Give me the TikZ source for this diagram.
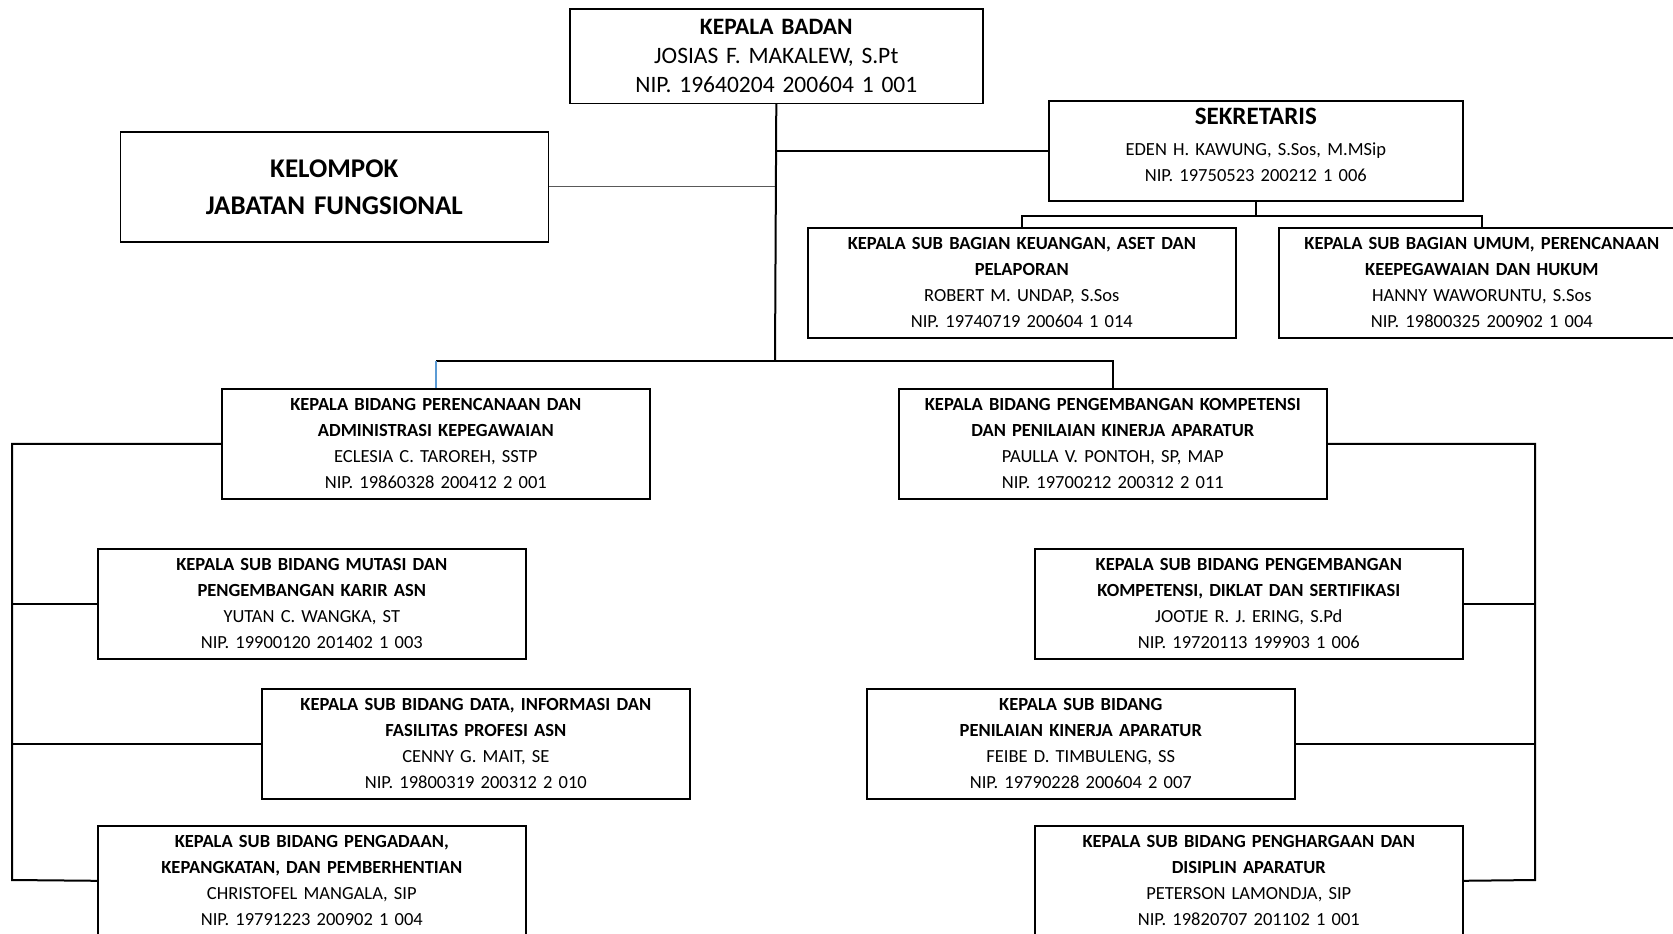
\documentclass[tikz,border=0pt]{standalone}
\usepackage{fontspec}
\setmainfont{Carlito}
\usetikzlibrary{positioning}
\definecolor{biru}{RGB}{91,155,213}
\frenchspacing

\begin{document}
\begin{tikzpicture}[x=1pt,y=-1pt]

      \tikzstyle{jabatan}=[rectangle,draw,line width=1.6pt,
        minimum width=428pt,minimum height=110pt,inner sep=4pt,
        text width=420pt,align=center,anchor=north west,
        font=\fontsize{18.5}{26}\selectfont]
      \tikzstyle{garis}=[line width=2pt]

      \useasboundingbox (0,0) rectangle (1673,934);
      \clip (0,0) rectangle (1673,934);

      % pimpinan
      \node(KepalaBadan)[jabatan,minimum width=413pt,text width=405pt,
        minimum height=94pt,font=\fontsize{23.5}{29}\selectfont]
        at (569,8.5) {\textbf{KEPALA BADAN}\\JOSIAS F. MAKALEW, S.Pt\\
        NIP. 19640204 200604 1 001};
      \node(Kelompok)[jabatan,font=\fontsize{27}{37}\selectfont\bfseries]
        at (119.5,131) {KELOMPOK\\JABATAN FUNGSIONAL};
      \node(Sekretaris)[jabatan,minimum width=414pt,text width=406pt,
        minimum height=100pt] at (1048,100)
        {{\fontsize{25}{26}\selectfont\textbf{SEKRETARIS}}\\[5pt]
        EDEN H. KAWUNG, S.Sos, M.MSip\\NIP. 19750523 200212 1 006\\[-14pt]
        \mbox{}};

      % sub bagian
      \node(SubBagian1)[jabatan] at (807,227)
        {\textbf{KEPALA SUB BAGIAN KEUANGAN, ASET DAN}\\
        \textbf{PELAPORAN}\\ROBERT M. UNDAP, S.Sos\\
        NIP. 19740719 200604 1 014};
      \node(SubBagian2)[jabatan,minimum width=406pt,text width=398pt]
        at (1278,227)
        {\textbf{KEPALA SUB BAGIAN UMUM, PERENCANAAN}\\
        \textbf{KEEPEGAWAIAN DAN HUKUM}\\HANNY WAWORUNTU, S.Sos\\
        NIP. 19800325 200902 1 004};

      % bidang
      \node(Bidang1)[jabatan] at (221,388)
        {\textbf{KEPALA BIDANG PERENCANAAN DAN}\\
        \textbf{ADMINISTRASI KEPEGAWAIAN}\\ECLESIA C. TAROREH, SSTP\\
        NIP. 19860328 200412 2 001};
      \node(Bidang2)[jabatan] at (898,388)
        {\textbf{KEPALA BIDANG PENGEMBANGAN KOMPETENSI}\\
        \textbf{DAN PENILAIAN KINERJA APARATUR}\\PAULLA V. PONTOH, SP, MAP\\
        NIP. 19700212 200312 2 011};

      % sub bidang
      \node(SubBidang1)[jabatan] at (97,548)
        {\textbf{KEPALA SUB BIDANG MUTASI DAN}\\
        \textbf{PENGEMBANGAN KARIR ASN}\\YUTAN C. WANGKA, ST\\
        NIP. 19900120 201402 1 003};
      \node(SubBidang2)[jabatan] at (261,688)
        {\textbf{KEPALA SUB BIDANG DATA, INFORMASI DAN}\\
        \textbf{FASILITAS PROFESI ASN}\\CENNY G. MAIT, SE\\
        NIP. 19800319 200312 2 010};
      \node(SubBidang3)[jabatan] at (97,825)
        {\textbf{KEPALA SUB BIDANG PENGADAAN,}\\
        \textbf{KEPANGKATAN, DAN PEMBERHENTIAN}\\CHRISTOFEL MANGALA, SIP\\
        NIP. 19791223 200902 1 004};
      \node(SubBidang4)[jabatan] at (1034,548)
        {\textbf{KEPALA SUB BIDANG PENGEMBANGAN}\\
        \textbf{KOMPETENSI, DIKLAT DAN SERTIFIKASI}\\JOOTJE R. J. ERING, S.Pd\\
        NIP. 19720113 199903 1 006};
      \node(SubBidang5)[jabatan] at (866,688)
        {\textbf{KEPALA SUB BIDANG}\\
        \textbf{PENILAIAN KINERJA APARATUR}\\FEIBE D. TIMBULENG, SS\\
        NIP. 19790228 200604 2 007};
      \node(SubBidang6)[jabatan] at (1034,825)
        {\textbf{KEPALA SUB BIDANG PENGHARGAAN DAN}\\
        \textbf{DISIPLIN APARATUR}\\PETERSON LAMONDJA, SIP\\
        NIP. 19820707 201102 1 001};

      \coordinate(Simpang) at (775,361);
      \coordinate(KiriBawah) at (12,880);
      \coordinate(KananBawah) at (1535,880);

      % garis komando
      \draw [garis] (KepalaBadan.south)--(Simpang);
      \draw [garis] (Sekretaris.west)--(Sekretaris.west -| Simpang);
      \draw [line width=1pt,gray!70!black]
      (Kelompok.east)--(Kelompok.east -| Simpang);

      \draw [garis] (Sekretaris.south)--++(0,14.5) coordinate(Cabang);
      \draw [garis] (SubBagian1.north) |- (Cabang) -| (SubBagian2.north);

      \draw [garis] (Bidang1.north |- Simpang) -| (Bidang2.north);
      \draw [garis,biru] (Bidang1.north |- Simpang)--(Bidang1.north);

      \draw [garis] (Bidang1.west) -| (KiriBawah)--(SubBidang3.west);
      \draw [garis] (SubBidang1.west)--(SubBidang1.west -| KiriBawah);
      \draw [garis] (SubBidang2.west)--(SubBidang2.west -| KiriBawah);

      \draw [garis] (Bidang2.east) -| (KananBawah)--(SubBidang6.east);
      \draw [garis] (SubBidang4.east)--(SubBidang4.east -| KananBawah);
      \draw [garis] (SubBidang5.east)--(SubBidang5.east -| KananBawah);

    \end{tikzpicture}
\end{document}
